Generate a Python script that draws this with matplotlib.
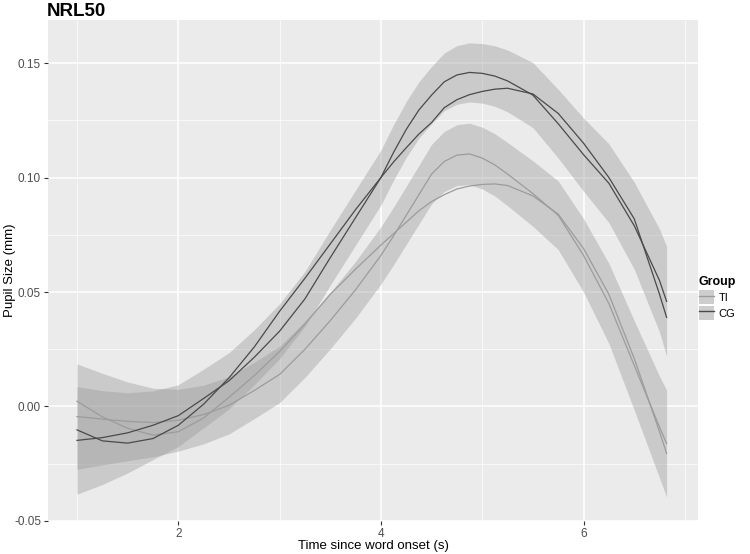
import numpy as np
import matplotlib
matplotlib.use('Agg')
from matplotlib import pyplot as plt
from matplotlib.patches import Patch
from matplotlib.lines import Line2D
from matplotlib.ticker import MultipleLocator

plt.rcParams['font.family'] = ['Liberation Sans', 'DejaVu Sans']

# values
time_s = [1.0, 1.25, 1.5, 1.75, 2.0, 2.25, 2.5, 2.75, 3.0, 3.25, 3.5, 3.75, 4.0, 4.125,
          4.25, 4.375, 4.5, 4.625, 4.75, 4.875, 5.0, 5.125, 5.25, 5.5, 5.75, 6.0, 6.25,
          6.5, 6.75, 6.82]

cg_fit = [-0.0148, -0.0136, -0.0115, -0.0082, -0.0040, 0.0035, 0.0112, 0.0215, 0.0329,
          0.0470, 0.0650, 0.0825, 0.1000, 0.1110, 0.1210, 0.1295, 0.1360, 0.1418, 0.1448,
          0.1459, 0.1455, 0.1443, 0.1422, 0.1360, 0.1235, 0.1100, 0.0975, 0.0790, 0.0550,
          0.0459]
cg_obs = [-0.0102, -0.0150, -0.0160, -0.0140, -0.0082, 0.0010, 0.0125, 0.0260, 0.0416,
          0.0560, 0.0710, 0.0860, 0.1000, 0.1068, 0.1130, 0.1190, 0.1240, 0.1305, 0.1340,
          0.1362, 0.1376, 0.1386, 0.1390, 0.1365, 0.1280, 0.1150, 0.1000, 0.0820, 0.0490,
          0.0389]
cg_halfwidth = [0.0235, 0.0205, 0.0175, 0.0150, 0.0135, 0.0128, 0.0123, 0.0120, 0.0120,
                0.0120, 0.0120, 0.0120, 0.0120, 0.0121, 0.0122, 0.0123, 0.0125, 0.0126,
                0.0128, 0.0129, 0.0130, 0.0132, 0.0135, 0.0142, 0.0150, 0.0160, 0.0172,
                0.0190, 0.0225, 0.0240]

ti_fit = [-0.0044, -0.0055, -0.0065, -0.0070, -0.0060, -0.0035, 0.0005, 0.0070, 0.0140,
          0.0250, 0.0375, 0.0510, 0.0660, 0.0745, 0.0835, 0.0925, 0.1015, 0.1070, 0.1098,
          0.1103, 0.1085, 0.1055, 0.1015, 0.0930, 0.0835, 0.0660, 0.0450, 0.0180, -0.0090,
          -0.0162]
ti_obs = [0.0023, -0.0045, -0.0095, -0.0125, -0.0110, -0.0050, 0.0040, 0.0135, 0.0240,
          0.0360, 0.0490, 0.0600, 0.0705, 0.0755, 0.0805, 0.0855, 0.0895, 0.0925, 0.0950,
          0.0963, 0.0970, 0.0972, 0.0965, 0.0920, 0.0840, 0.0690, 0.0490, 0.0210, -0.0110,
          -0.0205]
ti_halfwidth = [0.0230, 0.0200, 0.0172, 0.0150, 0.0135, 0.0128, 0.0125, 0.0123, 0.0123,
                0.0123, 0.0123, 0.0124, 0.0125, 0.0126, 0.0127, 0.0128, 0.0130, 0.0131,
                0.0133, 0.0134, 0.0135, 0.0136, 0.0138, 0.0143, 0.0150, 0.0160, 0.0175,
                0.0195, 0.0222, 0.0234]

groups = ['TI', 'CG']
group_colors = {'TI': '#9c9c9c', 'CG': '#4a4a4a'}

x_ticks = [2, 4, 6]
y_ticks = [-0.05, 0.0, 0.05, 0.10, 0.15]
y_labels = ['-0.05', '0.00', '0.05', '0.10', '0.15']

fig = plt.figure(figsize=(7.5, 5.54), dpi=100)
ax = fig.add_axes([0.064, 0.0596, 0.8667, 0.9043])
ax.set_facecolor('#EBEBEB')
for s in ax.spines.values():
    s.set_visible(False)

t = np.array(time_s)
series = {
    'TI': (np.array(ti_fit), np.array(ti_obs), np.array(ti_halfwidth)),
    'CG': (np.array(cg_fit), np.array(cg_obs), np.array(cg_halfwidth)),
}

for g in groups:
    fit, obs, hw = series[g]
    ax.fill_between(t, fit - hw, fit + hw, color='#999999', alpha=0.4, linewidth=0, zorder=2)
for g in groups:
    fit, obs, hw = series[g]
    ax.plot(t, obs, color=group_colors[g], lw=0.9, zorder=3)
    ax.plot(t, fit, color=group_colors[g], lw=0.9, zorder=3)

ax.set_xlim(0.714, 7.13)
ax.set_ylim(-0.0497, 0.1688)
ax.set_xticks(x_ticks)
ax.set_xticklabels([str(v) for v in x_ticks])
ax.set_yticks(y_ticks)
ax.set_yticklabels(y_labels)
ax.xaxis.set_minor_locator(MultipleLocator(1))
ax.yaxis.set_minor_locator(MultipleLocator(0.025))
ax.grid(which='major', color='white', lw=1.1, zorder=0)
ax.grid(which='minor', color='white', lw=0.5, zorder=0)
ax.set_axisbelow(True)
ax.tick_params(which='major', length=3, width=0.8, color='#333333',
               labelcolor='#4D4D4D', labelsize=8.5, pad=2)
ax.tick_params(which='minor', length=0)

ax.set_xlabel('Time since word onset (s)', fontsize=9.5)
ax.set_ylabel('Pupil Size (mm)', fontsize=9.5)
ax.xaxis.set_label_coords(0.5, -0.049)
ax.yaxis.set_label_coords(-0.058, 0.5)
ax.xaxis.label.set_va('center')
ax.yaxis.label.set_va('center')
ax.set_title('NRL50', loc='left', fontweight='bold', fontsize=13.5, pad=3, x=-0.002)

handles = [(Patch(facecolor='#cdcdcd', edgecolor='none'),
            Line2D([], [], color=group_colors[g], lw=1.0)) for g in groups]
leg = fig.legend(handles, groups, title='Group', loc='center left',
                 bbox_to_anchor=(0.921, 0.462), frameon=False, fontsize=8,
                 handlelength=1.4, handleheight=1.5, handletextpad=0.4,
                 labelspacing=0.2, borderpad=0.2)
leg.get_title().set_fontweight('bold')
leg.get_title().set_fontsize(9)
leg._legend_box.align = 'left'

fig.savefig('out.png', dpi=100)
